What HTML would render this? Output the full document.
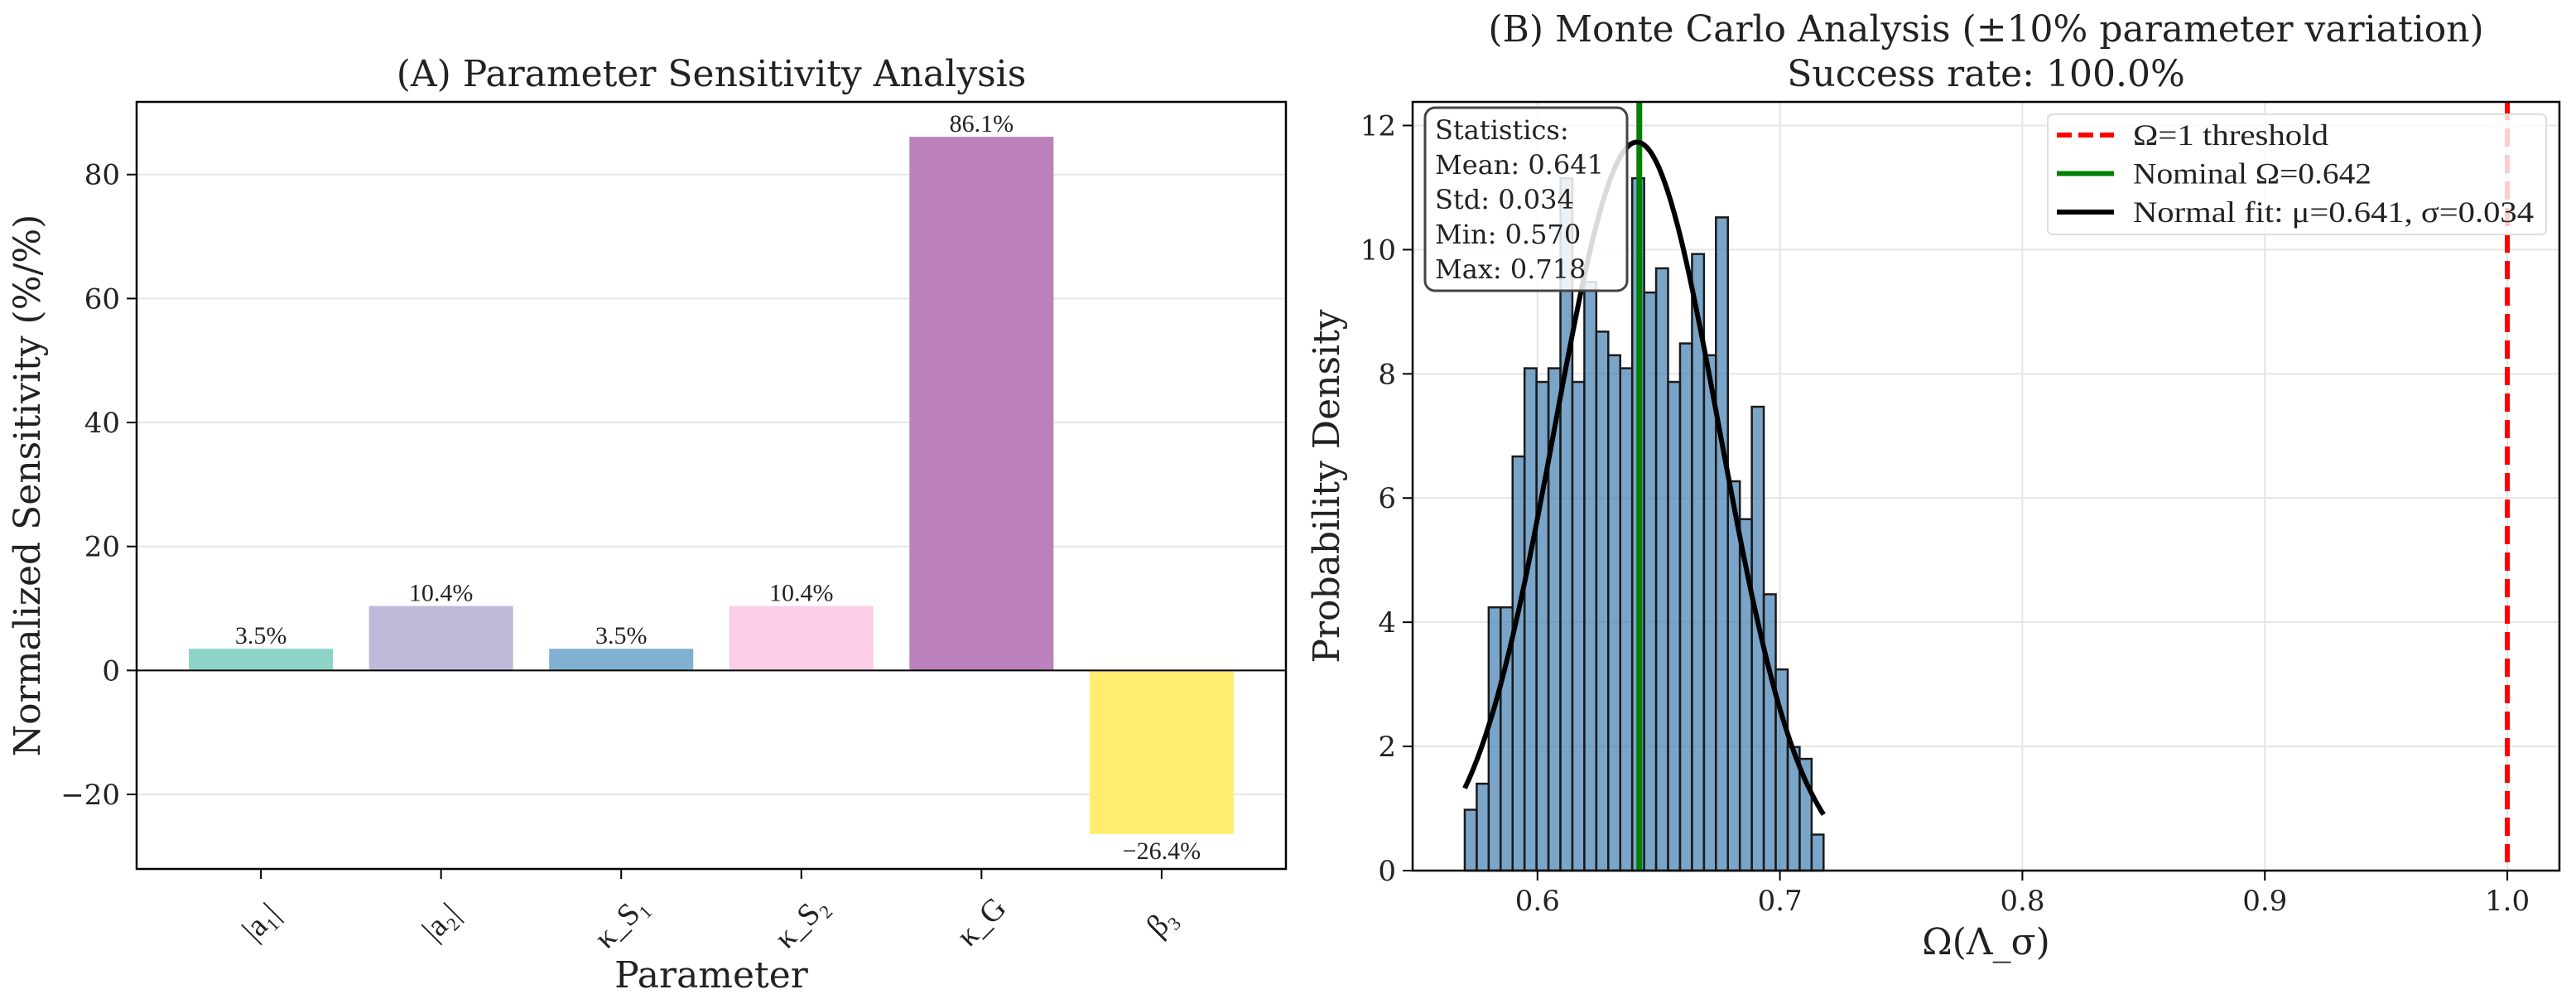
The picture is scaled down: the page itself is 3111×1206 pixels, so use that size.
<!DOCTYPE html>
<html><head><meta charset="utf-8"><style>
html,body{margin:0;padding:0;background:#fff;}
svg{display:block;}
.serif{font-family:"DejaVu Serif","Liberation Serif",serif;}
.times{font-family:"Liberation Serif",serif;}
</style></head><body>
<svg id="fig" width="3111" height="1206" viewBox="0 0 3111 1206" xmlns="http://www.w3.org/2000/svg">
<rect width="3111" height="1206" fill="#fff"/>
<g id="pa"></g>
<g id="pb"></g>
</svg>
<script>
// Panel A data
const paramLabels = ["|a\u2081|","|a\u2082|","\u03ba_S\u2081","\u03ba_S\u2082","\u03ba_G","\u03b2\u2083"];
const sensValues = [3.5, 10.4, 3.5, 10.4, 86.1, -26.4];
const barColors = ["#8dd3c7","#bebada","#80b1d3","#fccde5","#bc80bd","#ffed6f"];
const yTicksA = [-20, 0, 20, 40, 60, 80];
// Panel B data
const histDensity = [0.98,1.40,4.24,4.24,6.67,8.09,7.87,8.09,11.15,7.87,9.48,8.68,8.30,8.09,11.15,9.31,9.70,7.87,8.49,9.93,8.30,10.52,6.27,5.66,7.47,4.45,3.24,1.99,1.80,0.58];
const histRange = [0.570, 0.718];
const fitParams = [0.641, 0.034];
const nominalOmega = [0.642];
const thresholdOmega = [1.0];
const xTicksB = [0.6, 0.7, 0.8, 0.9, 1.0];
const yTicksB = [0, 2, 4, 6, 8, 10, 12];
const statsLines = ["Statistics:","Mean: 0.641","Std: 0.034","Min: 0.570","Max: 0.718"];

const NS = "http://www.w3.org/2000/svg";
function mk(parent, tag, attrs, text){
  const e = document.createElementNS(NS, tag);
  for (const k in attrs) e.setAttribute(k, attrs[k]);
  if (text !== undefined) e.textContent = text;
  parent.appendChild(e);
  return e;
}

// ---------- Panel A ----------
const pa = document.getElementById('pa');
const A = {l:165, r:1553, t:123, b:1049};
const nA = sensValues.length;
const xminA = -0.69, xmaxA = nA - 1 + 0.69;
const vmin = Math.min(...sensValues, 0), vmax = Math.max(...sensValues, 0);
const padA = (vmax - vmin) * 0.05;
const yminA = vmin - padA, ymaxA = vmax + padA;
const xA = v => A.l + (v - xminA) / (xmaxA - xminA) * (A.r - A.l);
const yA = v => A.b - (v - yminA) / (ymaxA - yminA) * (A.b - A.t);

yTicksA.forEach(t => {
  const g = mk(pa, 'line', {x1:A.l, x2:A.r, y1:yA(t), y2:yA(t), stroke:'#e5e5e5', 'stroke-width':2});
  
  
  const tk = mk(pa, 'line', {x1:A.l-12, x2:A.l, y1:yA(t), y2:yA(t), stroke:'#000', 'stroke-width':2});
  
  
  const lb = mk(pa, 'text', {x:A.l-20, y:yA(t)+12, 'text-anchor':'end', 'font-size':34, class:'serif', fill:'#222'}, (t<0?'\u2212':'')+Math.abs(t));
  
  
});

sensValues.forEach((v, i) => {
  const x0 = xA(i - 0.4), x1 = xA(i + 0.4);
  const y0 = yA(Math.max(v, 0)), y1 = yA(Math.min(v, 0));
  const r = mk(pa, 'rect', {x:x0, y:y0, width:x1-x0, height:y1-y0, fill:barColors[i]});
  
  
  const ly = v >= 0 ? yA(v) - 6 : yA(v) + 30;
  const t = mk(pa, 'text', {x:xA(i), y:ly, 'text-anchor':'middle', 'font-size':30, class:'times', fill:'#222'}, (v<0?'\u2212':'') + Math.abs(v).toFixed(1) + '%');
  
  
  const tk = mk(pa, 'line', {x1:xA(i), x2:xA(i), y1:A.b, y2:A.b+12, stroke:'#000', 'stroke-width':2});
  
  
  const cx = xA(i), cy = A.b + 64;
  const tl = mk(pa, 'text', {x:cx, y:cy+12, 'text-anchor':'middle', 'font-size':38, class:'times', fill:'#222', transform:`rotate(-45 ${cx} ${cy})`}, paramLabels[i]);
  
  
});
const zl = mk(pa, 'line', {x1:A.l, x2:A.r, y1:yA(0), y2:yA(0), stroke:'#000', 'stroke-width':2});


const fa = mk(pa, 'rect', {x:A.l, y:A.t, width:A.r-A.l, height:A.b-A.t, fill:'none', stroke:'#000', 'stroke-width':2.5});


const tA = mk(pa, 'text', {x:(A.l+A.r)/2, y:104, 'text-anchor':'middle', 'font-size':44, class:'serif', fill:'#222'}, '(A) Parameter Sensitivity Analysis');


const xlA = mk(pa, 'text', {x:(A.l+A.r)/2, y:1192, 'text-anchor':'middle', 'font-size':44, class:'serif', fill:'#222'}, 'Parameter');


const ylA = mk(pa, 'text', {x:0, y:0, 'text-anchor':'middle', 'font-size':44, class:'serif', fill:'#222', transform:`translate(48 ${(A.t+A.b)/2}) rotate(-90)`}, 'Normalized Sensitivity (%/%)');



// ---------- Panel B ----------
const pb = document.getElementById('pb');
const B = {l:1706, r:3091, t:123, b:1051};
const xlo = Math.min(histRange[0], thresholdOmega[0]), xhi = Math.max(histRange[1], thresholdOmega[0]);
const padB = (xhi - xlo) * 0.05;
const xminB = xlo - padB, xmaxB = xhi + padB;
const ymaxB = 12.38;
const xB = v => B.l + (v - xminB) / (xmaxB - xminB) * (B.r - B.l);
const yB = v => B.b - v / ymaxB * (B.b - B.t);

xTicksB.forEach(t => {
  const g = mk(pb, 'line', {x1:xB(t), x2:xB(t), y1:B.t, y2:B.b, stroke:'#e5e5e5', 'stroke-width':2});
  
  
  const tk = mk(pb, 'line', {x1:xB(t), x2:xB(t), y1:B.b, y2:B.b+12, stroke:'#000', 'stroke-width':2});
  
  
  const lb = mk(pb, 'text', {x:xB(t), y:B.b+48, 'text-anchor':'middle', 'font-size':34, class:'serif', fill:'#222'}, t.toFixed(1));
  
  
});
yTicksB.forEach(t => {
  const g = mk(pb, 'line', {x1:B.l, x2:B.r, y1:yB(t), y2:yB(t), stroke:'#e5e5e5', 'stroke-width':2});
  
  
  const tk = mk(pb, 'line', {x1:B.l-12, x2:B.l, y1:yB(t), y2:yB(t), stroke:'#000', 'stroke-width':2});
  
  
  const lb = mk(pb, 'text', {x:B.l-20, y:yB(t)+12, 'text-anchor':'end', 'font-size':34, class:'serif', fill:'#222'}, String(t));
  
  
});

const bw = (histRange[1] - histRange[0]) / histDensity.length;
histDensity.forEach((d, i) => {
  const x0 = xB(histRange[0] + i*bw), x1 = xB(histRange[0] + (i+1)*bw);
  const r = mk(pb, 'rect', {x:x0, y:yB(d), width:x1-x0, height:yB(0)-yB(d), fill:'rgba(70,130,180,0.72)', stroke:'#1a1a1a', 'stroke-width':2.5});
  
  
});

const thr = mk(pb, 'line', {x1:xB(thresholdOmega[0]), x2:xB(thresholdOmega[0]), y1:B.t, y2:B.b, stroke:'#ff0000', 'stroke-width':6, 'stroke-dasharray':'22 10'});


const nom = mk(pb, 'line', {x1:xB(nominalOmega[0]), x2:xB(nominalOmega[0]), y1:B.t, y2:B.b, stroke:'#008000', 'stroke-width':7});



let pts = [];
const N = 120;
for (let k = 0; k <= N; k++) {
  const x = histRange[0] + (histRange[1]-histRange[0]) * k / N;
  const z = (x - fitParams[0]) / fitParams[1];
  const y = Math.exp(-0.5*z*z) / (fitParams[1] * Math.sqrt(2*Math.PI));
  pts.push(xB(x).toFixed(1) + ',' + yB(y).toFixed(1));
}
const curve = mk(pb, 'polyline', {points:pts.join(' '), fill:'none', stroke:'#000', 'stroke-width':6, 'stroke-linejoin':'round'});



const fb = mk(pb, 'rect', {x:B.l, y:B.t, width:B.r-B.l, height:B.b-B.t, fill:'none', stroke:'#000', 'stroke-width':2.5});



// stats box
const sb = mk(pb, 'g', {});


mk(sb, 'rect', {x:1721, y:130, width:244, height:221, rx:12, fill:'rgba(255,255,255,0.85)', stroke:'#444', 'stroke-width':3});
statsLines.forEach((s, i) => {
  const t = mk(sb, 'text', {x:1733, y:168 + i*42, 'font-size':32, class:'serif', fill:'#222'}, s);
  
  
});

// legend
const lg = mk(pb, 'g', {});


mk(lg, 'rect', {x:2473, y:138, width:602, height:145, rx:6, fill:'rgba(255,255,255,0.8)', stroke:'#ddd', 'stroke-width':2});
const legItems = [
  {label:'\u03a9=1 threshold', color:'#ff0000', dash:'18 8', name:'legend-entry-threshold', w:236},
  {label:'Nominal \u03a9=0.642', color:'#008000', dash:'', name:'legend-entry-nominal', w:288},
  {label:'Normal fit: \u03bc=0.641, \u03c3=0.034', color:'#000', dash:'', name:'legend-entry-fit', w:484}
];
legItems.forEach((it, i) => {
  const y = 163 + i*46.5;
  const g = mk(lg, 'g', {});
  
  
  const a = {x1:2484, x2:2553, y1:y, y2:y, stroke:it.color, 'stroke-width':6};
  if (it.dash) a['stroke-dasharray'] = it.dash;
  mk(g, 'line', a);
  mk(g, 'text', {x:2576, y:y+12, 'font-size':36, class:'times', fill:'#222', textLength:it.w, lengthAdjust:'spacingAndGlyphs'}, it.label);
});

const tB1 = mk(pb, 'text', {x:(B.l+B.r)/2, y:50, 'text-anchor':'middle', 'font-size':44, class:'serif', fill:'#222'}, '(B) Monte Carlo Analysis (\u00b110% parameter variation)');


const tB2 = mk(pb, 'text', {x:(B.l+B.r)/2, y:104, 'text-anchor':'middle', 'font-size':44, class:'serif', fill:'#222'}, 'Success rate: 100.0%');


const xlB = mk(pb, 'text', {x:(B.l+B.r)/2, y:1152, 'text-anchor':'middle', 'font-size':44, class:'serif', fill:'#222'}, '\u03a9(\u039b_\u03c3)');


const ylB = mk(pb, 'text', {x:0, y:0, 'text-anchor':'middle', 'font-size':44, class:'serif', fill:'#222', transform:`translate(1617 ${(B.t+B.b)/2}) rotate(-90)`}, 'Probability Density');


</script>
</body></html>
